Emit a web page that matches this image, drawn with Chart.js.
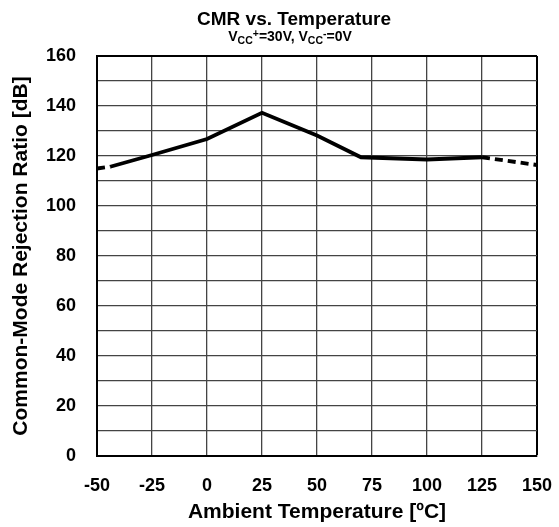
<!DOCTYPE html>
<html>
<head>
<meta charset="utf-8">
<script src="https://cdn.jsdelivr.net/npm/chart.js@4/dist/chart.umd.min.js"></script>
<style>
  html, body { margin: 0; padding: 0; background: #fff; }
  #wrap { width: 559px; height: 527px; }
</style>
</head>
<body>
<div id="wrap"><canvas id="c" width="559" height="527"></canvas></div>
<script>
// Data
const temperatures = [-50, -44, -25, 0, 25, 50, 70, 100, 125, 150];
const cmrrValues   = [115, 115.7, 120.4, 126.8, 137.3, 128.2, 119.5, 118.6, 119.5, 116.4];
const xTickValues  = [-50, -25, 0, 25, 50, 75, 100, 125, 150];
const yTickLabels  = ['0', '20', '40', '60', '80', '100', '120', '140', '160'];
const solidFrom = -44, solidTo = 125;

const titleText = 'CMR vs. Temperature';
const xTitle = 'Ambient Temperature [\u00BAC]';
const yTitle = 'Common-Mode Rejection Ratio [dB]';

const FONT = "'Liberation Sans', Arial, sans-serif";

const titlePlugin = {
  id: 'titles',
  afterDraw(chart) {
    const ctx = chart.ctx;
    ctx.save();
    ctx.fillStyle = '#000';
    ctx.textBaseline = 'alphabetic';
    ctx.textAlign = 'center';
    ctx.font = 'bold 19px ' + FONT;
    ctx.fillText(titleText, 294, 25);
    // subtitle with sub/superscripts
    const parts = [
      ['V', 0, 14], ['CC', 3, 10.5], ['+', -4, 10.5], ['=30V, V', 0, 14],
      ['CC', 3, 10.5], ['-', -4, 10.5], ['=0V', 0, 14]
    ];
    ctx.textAlign = 'left';
    let total = 0;
    parts.forEach(p => { ctx.font = 'bold ' + p[2] + 'px ' + FONT; total += ctx.measureText(p[0]).width; });
    let x = 290 - total / 2;
    const base = 41;
    parts.forEach(p => {
      ctx.font = 'bold ' + p[2] + 'px ' + FONT;
      ctx.fillText(p[0], x, base + p[1]);
      x += ctx.measureText(p[0]).width;
    });
    ctx.restore();
  }
};

const gridCol = '#444';
new Chart(document.getElementById('c'), {
  type: 'scatter',
  data: {
    datasets: [{
      data: temperatures.map((t, i) => ({ x: t, y: cmrrValues[i] })),
      showLine: true,
      borderColor: '#000',
      backgroundColor: '#000',
      borderWidth: 3.8,
      pointRadius: 0,
      tension: 0,
      borderCapStyle: 'butt',
      segment: {
        borderDash: c => (c.p1.parsed.x <= solidFrom || c.p0.parsed.x >= solidTo) ? [8, 5] : undefined
      }
    }]
  },
  options: {
    responsive: false,
    animation: false,
    devicePixelRatio: 1,
    layout: { padding: { left: 0, right: 22, top: 56, bottom: 0 } },
    plugins: { legend: { display: false }, tooltip: { enabled: false }, title: { display: false } },
    scales: {
      x: {
        type: 'linear',
        min: -50, max: 150,
        afterBuildTicks: s => { s.ticks = xTickValues.map(v => ({ value: v })); },
        afterFit: s => { s.height = 71; s.paddingLeft = 0; s.paddingRight = 0; },
        ticks: {
          color: '#000', padding: 19,
          font: { family: FONT, size: 18, weight: 'bold' },
          maxRotation: 0, autoSkip: false
        },
        grid: {
          drawTicks: false,
          color: c => (c.tick && c.tick.value === 150) ? '#000' : gridCol,
          lineWidth: c => (c.tick && c.tick.value === 150) ? 2 : 1.3
        },
        border: { color: '#000', width: 2 },
        title: {
          display: true, text: xTitle, color: '#000',
          font: { family: FONT, size: 21, weight: 'bold' },
          padding: { top: 2, bottom: 2 }
        }
      },
      y: {
        min: 0, max: 160,
        afterFit: s => { s.width = 97; s.paddingTop = 0; s.paddingBottom = 0; },
        ticks: {
          stepSize: 10, color: '#000', padding: 21,
          font: { family: FONT, size: 18, weight: 'bold' },
          callback: v => (v % 20 === 0) ? yTickLabels[v / 20] : ''
        },
        grid: {
          drawTicks: false,
          color: c => (c.tick && c.tick.value === 160) ? '#000' : gridCol,
          lineWidth: c => (c.tick && c.tick.value === 160) ? 2 : 1.3
        },
        border: { color: '#000', width: 2 },
        title: {
          display: true, text: yTitle, color: '#000',
          font: { family: FONT, size: 21, weight: 'bold' },
          padding: { top: 9, bottom: 0 }
        }
      }
    }
  },
  plugins: [titlePlugin]
});
</script>
</body>
</html>
